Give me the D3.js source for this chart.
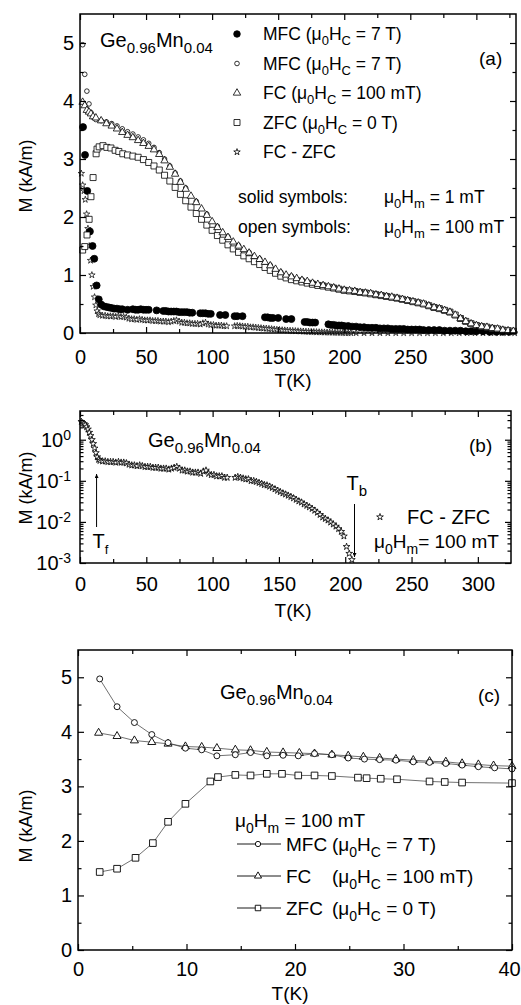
<!DOCTYPE html>
<html>
<head>
<meta charset="utf-8">
<script src="https://cdn.jsdelivr.net/npm/d3@7"></script>
<style>
  body { margin: 0; background: #fff; }
  svg text { font-family: "Liberation Sans", Arial, Helvetica, sans-serif; fill: #000; }
</style>
</head>
<body>
<svg id="chart" width="521" height="1005"></svg>
<script>
// ---------------- data (T in K, M in kA/m) ----------------
// panel (a): open symbols = 100 mT measuring field, solid = 1 mT
const mfc1mT = [[2.3,3.55],[3.8,3.07],[5.5,2.45],[7.5,1.75],[9.5,1.50],[10.8,1.28],[12.6,0.82],[14.2,0.58],[16,0.49],[18,0.46],[20,0.45],[22,0.44],[24,0.43],[26,0.42],[28,0.42],[30,0.41],[32,0.41],[36,0.40],[40,0.41],[42,0.40],[44,0.40],[46,0.41],[48,0.40],[50,0.40],[52,0.40],[58,0.39],[63,0.38],[65,0.38],[67,0.37],[69,0.37],[71,0.37],[73,0.37],[75,0.36],[77,0.36],[79,0.36],[81,0.36],[83,0.35],[85,0.35],[91,0.34],[93,0.34],[95,0.34],[97,0.33],[99,0.33],[106,0.31],[110,0.31],[117,0.29],[119,0.29],[123,0.29],[140,0.27],[142,0.27],[144,0.26],[146,0.26],[150,0.26],[156,0.24],[160,0.24],[170,0.19],[172,0.19],[174,0.18],[176,0.18],[178,0.18],[188,0.15],[190,0.14],[192,0.14],[194,0.13],[196,0.13],[198,0.13],[200,0.12],[203,0.12],[206,0.11],[209,0.11],[212,0.10],[215,0.10],[218,0.09],[221,0.09],[224,0.09],[227,0.08],[230,0.08],[233,0.08],[236,0.07],[239,0.07],[242,0.07],[245,0.07],[248,0.06],[251,0.06],[254,0.06],[257,0.06],[260,0.05],[264,0.05],[268,0.05],[272,0.05],[276,0.04],[280,0.04],[284,0.04],[288,0.04],[292,0.03],[296,0.03],[300,0.03],[305,0.03],[310,0.02],[315,0.02],[320,0.02],[325,0.02]];

const mfc100mT = [[2,4.97],[3.6,4.46],[5.2,4.17],[6.8,3.95],[8.3,3.80],[9.9,3.72],[12,3.68],[16,3.66],[20,3.64],[24,3.61],[28,3.57],[32,3.52],[36,3.47],[40,3.43],[44,3.38],[48,3.33],[52,3.27],[56,3.20],[60,3.11],[64,3.00],[68,2.88],[72,2.76],[76,2.62],[80,2.50],[88,2.27],[96,2.05],[104,1.84],[112,1.66],[120,1.51],[128,1.39],[136,1.28],[144,1.17],[152,1.05],[160,0.98],[168,0.92],[176,0.87],[184,0.83],[192,0.79],[200,0.75],[208,0.72],[216,0.70],[224,0.67],[232,0.64],[240,0.61],[248,0.57],[256,0.53],[264,0.48],[272,0.43],[280,0.37],[288,0.26],[296,0.17],[304,0.12],[312,0.09],[320,0.06],[328,0.03]];

const fc100mT = [[2,3.98],[3.6,3.92],[5.2,3.84],[6.8,3.81],[8.3,3.78],[9.9,3.73],[12,3.71],[16,3.66],[20,3.61],[24,3.57],[28,3.52],[32,3.46],[36,3.41],[40,3.37],[44,3.32],[48,3.27],[52,3.22],[56,3.16],[60,3.08],[64,2.97],[68,2.86],[72,2.74],[76,2.60],[80,2.48],[84,2.36],[88,2.25],[92,2.14],[96,2.03],[100,1.92],[104,1.82],[108,1.73],[112,1.65],[116,1.57],[120,1.50],[124,1.44],[128,1.38],[132,1.32],[136,1.27],[140,1.22],[144,1.16],[148,1.10],[152,1.04],[156,1.00],[160,0.97],[164,0.94],[168,0.91],[172,0.89],[176,0.86],[180,0.84],[184,0.82],[188,0.80],[192,0.78],[196,0.76],[200,0.74],[204,0.73],[208,0.72],[212,0.70],[216,0.69],[220,0.68],[224,0.66],[228,0.65],[232,0.63],[236,0.62],[240,0.60],[244,0.58],[248,0.56],[252,0.54],[256,0.52],[260,0.50],[264,0.47],[268,0.44],[272,0.42],[276,0.39],[280,0.36],[284,0.31],[288,0.25],[292,0.20],[296,0.16],[300,0.13],[304,0.11],[308,0.10],[312,0.08],[316,0.07],[320,0.05],[324,0.04],[328,0.03]];

const zfc100mT = [[2,1.43],[3.6,1.49],[5.3,1.69],[6.9,1.96],[8.3,2.35],[9.9,2.68],[12.2,3.09],[12.9,3.17],[14.5,3.21],[17.4,3.23],[20.3,3.20],[23.4,3.19],[26.6,3.15],[29.4,3.13],[32.4,3.09],[36,3.07],[40,3.05],[44,3.03],[48,2.99],[52,2.94],[56,2.88],[60,2.81],[64,2.72],[68,2.62],[72,2.51],[76,2.39],[80,2.28],[84,2.17],[88,2.06],[92,1.96],[96,1.86],[100,1.77],[104,1.68],[108,1.60],[112,1.52],[116,1.45],[120,1.39],[124,1.33],[128,1.28],[132,1.23],[136,1.18],[140,1.13],[144,1.08],[148,1.03],[152,0.98],[156,0.95],[160,0.92],[164,0.90],[168,0.88],[172,0.86],[176,0.84],[180,0.82],[184,0.81],[188,0.79],[192,0.775],[196,0.755],[200,0.735],[204,0.725],[208,0.715],[212,0.70],[216,0.69],[220,0.675],[224,0.66],[228,0.645],[232,0.63],[236,0.615],[240,0.60],[244,0.58],[248,0.56],[252,0.54],[256,0.52],[260,0.50],[264,0.47],[268,0.44],[272,0.42],[276,0.39],[280,0.36],[284,0.31],[288,0.25],[292,0.20],[296,0.16],[300,0.13],[304,0.11],[308,0.10],[312,0.08],[316,0.07],[320,0.05],[324,0.04],[328,0.03]];

// FC - ZFC difference, used in (a) and on log scale in (b)
const fcMinusZfc = [[1,2.75],[2,2.55],[3,2.45],[4,2.3],[5,2.05],[6,1.8],[7,1.5],[8,1.25],[9,1.0],[10,0.8],[11,0.62],[12,0.48],[13,0.38],[14,0.33],[15,0.31],[17,0.30],[19,0.30],[21,0.29],[23,0.29],[25,0.29],[27,0.28],[29,0.29],[31,0.28],[33,0.28],[35,0.27],[37,0.25],[39,0.24],[41,0.24],[43,0.23],[45,0.24],[47,0.23],[49,0.22],[51,0.22],[53,0.22],[55,0.21],[57,0.21],[59,0.21],[61,0.20],[63,0.20],[65,0.20],[67,0.19],[69,0.20],[71,0.21],[73,0.22],[75,0.20],[77,0.18],[79,0.18],[81,0.17],[83,0.17],[85,0.16],[87,0.16],[89,0.16],[91,0.15],[93,0.17],[95,0.18],[97,0.15],[99,0.14],[101,0.14],[103,0.13],[105,0.13],[107,0.13],[109,0.12],[111,0.12],[117,0.12],[119,0.125],[121,0.12],[123,0.115],[125,0.11],[127,0.11],[129,0.10],[131,0.10],[133,0.095],[135,0.09],[137,0.085],[139,0.08],[141,0.078],[143,0.073],[145,0.068],[147,0.063],[149,0.058],[151,0.054],[153,0.05],[155,0.047],[157,0.044],[159,0.041],[161,0.038],[163,0.035],[165,0.032],[167,0.03],[169,0.027],[171,0.025],[173,0.023],[175,0.021],[177,0.019],[179,0.017],[181,0.015],[183,0.013],[185,0.012],[187,0.011],[189,0.0098],[191,0.0088],[193,0.0078],[195,0.0068],[197,0.0058],[199,0.0045],[201,0.0025],[203,0.0017],[205,0.0012],[209,0.0008],[215,0.0006],[221,0.0005],[227,0.0007],[233,0.0004],[239,0.0006],[245,0.0005],[251,0.0004],[257,0.0006],[263,0.0005],[269,0.0004],[275,0.0005],[281,0.0006],[287,0.0004],[293,0.0005],[299,0.0004],[305,0.0005],[311,0.0004],[317,0.0005],[323,0.0004],[329,0.0004]];

// panel (c): low temperature zoom, 100 mT measuring field
const mfcLowT = [[2.0,4.97],[3.6,4.46],[5.2,4.17],[6.8,3.95],[8.3,3.80],[9.9,3.70],[11.4,3.67],[12.8,3.56],[14.5,3.58],[15.9,3.62],[17.4,3.56],[18.9,3.57],[20.3,3.56],[21.8,3.60],[23.4,3.58],[24.9,3.52],[26.4,3.50],[27.8,3.49],[29.3,3.48],[30.9,3.45],[32.4,3.44],[33.9,3.42],[35.4,3.39],[36.9,3.36],[38.4,3.34],[40,3.32]];
const fcLowT = [[1.9,3.98],[3.6,3.92],[5.2,3.84],[6.8,3.81],[8.3,3.78],[9.9,3.73],[11.4,3.72],[12.8,3.70],[14.5,3.67],[15.9,3.66],[17.4,3.63],[18.9,3.62],[20.4,3.61],[21.8,3.60],[23.4,3.58],[24.9,3.56],[26.3,3.54],[27.8,3.52],[29.3,3.50],[30.9,3.48],[32.4,3.46],[33.9,3.45],[35.4,3.42],[36.9,3.40],[38.3,3.38],[40,3.37]];
const zfcLowT = [[2.0,1.43],[3.6,1.49],[5.3,1.69],[6.9,1.96],[8.3,2.35],[9.9,2.68],[12.2,3.09],[12.9,3.17],[14.5,3.21],[15.9,3.20],[17.4,3.23],[18.8,3.23],[20.3,3.20],[21.8,3.20],[23.4,3.19],[25.8,3.16],[26.6,3.15],[27.9,3.14],[29.4,3.13],[32.4,3.09],[33.8,3.08],[35.4,3.07],[40,3.06]];

// ticks
const tMajorAB = [0, 50, 100, 150, 200, 250, 300];
const tMinorAB = [25, 75, 125, 175, 225, 275, 325];
const mMajor = [0, 1, 2, 3, 4, 5];
const mMinor = [0.5, 1.5, 2.5, 3.5, 4.5];
const logMajor = [1e-3, 1e-2, 1e-1, 1];
const logLabels = ["-3", "-2", "-1", "0"];
const tMajorC = [0, 10, 20, 30, 40];
const tMinorC = [5, 15, 25, 35];

const Tf = 12.5, Tb = 207;

// ---------------- setup ----------------
const svg = d3.select("#chart");

const xA = d3.scaleLinear().domain([0, 330]).range([80, 516]);
const yA = d3.scaleLinear().domain([0, 5.5]).range([333, 14]);
const xB = d3.scaleLinear().domain([0, 325]).range([80, 511]);
const yB = d3.scaleLog().domain([1e-3, 5]).range([563, 411]);
const xC = d3.scaleLinear().domain([0, 40]).range([78, 512]);
const yC = d3.scaleLinear().domain([0, 5.5]).range([950, 650]);

const defs = svg.append("defs");
defs.append("marker").attr("id", "arrow")
  .attr("viewBox", "0 0 10 10").attr("refX", 10).attr("refY", 5)
  .attr("markerWidth", 6).attr("markerHeight", 4)
  .attr("orient", "auto")
  .append("path").attr("d", "M0,0 L10,5 L0,10 z").attr("fill", "#000");

// text with sub / superscripts, parts = [[str, "sub"|"sup"|undefined], ...]
function richText(g, x, y, parts, size, anchor, small) {
  const t = g.append("text").attr("x", x).attr("y", y)
    .style("font-size", size + "px").attr("text-anchor", anchor || "start");
  let shift = 0;
  parts.forEach(p => {
    const kind = p[1];
    const target = kind === "sub" ? size * 0.3 : kind === "sup" ? -size * 0.36 : 0;
    t.append("tspan")
      .attr("dy", target - shift)
      .style("font-size", (kind ? (small || size * 0.72) : size) + "px")
      .text(p[0]);
    shift = target;
  });
  return t;
}

// frame + inward ticks on all four sides
function drawAxes(x, y, opt) {
  const [x0, x1] = x.range();
  const [y0, y1] = y.range();
  const g = svg.append("g");
  const mk = (axis, tr, vals, size, fmt, pad) => {
    const a = g.append("g").attr("transform", tr)
      .call(axis.tickValues(vals).tickSizeInner(size).tickSizeOuter(0)
        .tickPadding(pad || 0).tickFormat(fmt || (() => "")));
    a.select(".domain").remove();
    a.selectAll("line").attr("stroke-width", 1.2);
    a.selectAll("text").style("font-size", "20px");
    return a;
  };
  const bottom = mk(d3.axisBottom(x), `translate(0,${y0})`, opt.xMaj, -6, d3.format("d"), opt.xPad);
  mk(d3.axisBottom(x), `translate(0,${y0})`, opt.xMin, -4);
  mk(d3.axisTop(x), `translate(0,${y1})`, opt.xMaj, -6);
  mk(d3.axisTop(x), `translate(0,${y1})`, opt.xMin, -4);
  mk(d3.axisLeft(y), `translate(${x0},0)`, opt.yMaj, -6, opt.yFmt, 6);
  mk(d3.axisLeft(y), `translate(${x0},0)`, opt.yMin, -3.5);
  mk(d3.axisRight(y), `translate(${x1},0)`, opt.yMaj, -6);
  mk(d3.axisRight(y), `translate(${x1},0)`, opt.yMin, -3.5);
  g.append("rect").attr("x", x0).attr("y", y1)
    .attr("width", x1 - x0).attr("height", y0 - y1)
    .attr("fill", "none").attr("stroke", "#000").attr("stroke-width", 1.5);
  return bottom;
}

function drawMarks(g, data, x, y, shape, size, filled, sw) {
  g.append("g").selectAll("path").data(data).join("path")
    .attr("transform", d => `translate(${x(d[0])},${y(d[1])})`)
    .attr("d", d3.symbol(shape, size))
    .attr("fill", filled ? "#000" : "#fff")
    .attr("stroke", "#000").attr("stroke-width", sw || 0.8);
}

function yTitle(cy) {
  svg.append("text").attr("transform", `translate(32,${cy}) rotate(-90)`)
    .attr("text-anchor", "middle").style("font-size", "18px").text("M (kA/m)");
}
function xTitle(cx, by) {
  svg.append("text").attr("x", cx).attr("y", by)
    .attr("text-anchor", "middle").style("font-size", "19px").text("T(K)");
}

const geMn = [["Ge"], ["0.96", "sub"], ["Mn"], ["0.04", "sub"]];

// ---------------- panel (a) ----------------
const gA = svg.append("g");
drawMarks(gA, fcMinusZfc, xA, yA, d3.symbolStar, 13, false, 0.7);
drawMarks(gA, mfc1mT, xA, yA, d3.symbolCircle, 38, true);
drawMarks(gA, zfc100mT, xA, yA, d3.symbolSquare, 36, false);
drawMarks(gA, mfc100mT, xA, yA, d3.symbolCircle, 17, false);
drawMarks(gA, fc100mT, xA, yA, d3.symbolTriangle, 24, false);
drawAxes(xA, yA, {xMaj: tMajorAB, xMin: tMinorAB.filter(v => v < 330), yMaj: mMajor, yMin: mMinor,
  yFmt: d3.format("d"), xPad: 17});

richText(svg, 100, 47, geMn, 20, "start", 15);
svg.append("text").attr("x", 479).attr("y", 65).style("font-size", "19px").text("(a)");

const legendA = [
  {shape: d3.symbolCircle, size: 34, filled: true, parts: [["MFC (μ"], ["0", "sub"], ["H"], ["C", "sub"], [" = 7 T)"]]},
  {shape: d3.symbolCircle, size: 17, filled: false, parts: [["MFC (μ"], ["0", "sub"], ["H"], ["C", "sub"], [" = 7 T)"]]},
  {shape: d3.symbolTriangle, size: 24, filled: false, parts: [["FC (μ"], ["0", "sub"], ["H"], ["C", "sub"], [" = 100 mT)"]]},
  {shape: d3.symbolSquare, size: 36, filled: false, parts: [["ZFC (μ"], ["0", "sub"], ["H"], ["C", "sub"], [" = 0 T)"]]},
  {shape: d3.symbolStar, size: 13, filled: false, parts: [["FC - ZFC"]]}
];
legendA.forEach((d, i) => {
  const by = 40 + i * 29.5;
  svg.append("path").attr("transform", `translate(237,${by - 6})`)
    .attr("d", d3.symbol(d.shape, d.size))
    .attr("fill", d.filled ? "#000" : "#fff").attr("stroke", "#000").attr("stroke-width", 0.8);
  richText(svg, 263, by, d.parts, 17.5, "start", 13);
});
svg.append("text").attr("x", 238).attr("y", 203).style("font-size", "17.5px").text("solid symbols:");
svg.append("text").attr("x", 238).attr("y", 233).style("font-size", "17.5px").text("open symbols:");
richText(svg, 384, 203, [["μ"], ["0", "sub"], ["H"], ["m", "sub"], [" = 1 mT"]], 17.5, "start", 13);
richText(svg, 384, 233, [["μ"], ["0", "sub"], ["H"], ["m", "sub"], [" = 100 mT"]], 17.5, "start", 13);

yTitle(176);
xTitle(293, 387);

// ---------------- panel (b) ----------------
const gB = svg.append("g");
drawMarks(gB, fcMinusZfc.filter(d => d[1] >= 1e-3), xB, yB, d3.symbolStar, 14, false, 0.8);

const logMinor = [];
[1e-3, 1e-2, 1e-1, 1].forEach(dec => {
  for (let k = 2; k <= 9; k++) if (dec * k < 5) logMinor.push(dec * k);
});
drawAxes(xB, yB, {xMaj: tMajorAB, xMin: tMinorAB.filter(v => v < 325), yMaj: logMajor, yMin: logMinor,
  yFmt: () => "", xPad: 14});
logMajor.forEach((v, i) => {
  richText(svg, 71, yB(v) + 7, [["10"], [logLabels[i], "sup"]], 20, "end", 14);
});

richText(svg, 148, 447, geMn, 20, "start", 15);
svg.append("text").attr("x", 469).attr("y", 452).style("font-size", "19px").text("(b)");

// Tf and Tb arrows
svg.append("line").attr("x1", xB(Tf)).attr("x2", xB(Tf)).attr("y1", 527).attr("y2", 474)
  .attr("stroke", "#000").attr("stroke-width", 1).attr("marker-end", "url(#arrow)");
richText(svg, xB(Tf) - 4, 548, [["T"], ["f", "sub"]], 20, "start", 13);
svg.append("line").attr("x1", xB(Tb)).attr("x2", xB(Tb)).attr("y1", 504).attr("y2", 557)
  .attr("stroke", "#000").attr("stroke-width", 1).attr("marker-end", "url(#arrow)");
richText(svg, xB(Tb) - 8, 490, [["T"], ["b", "sub"]], 20, "start", 15);

svg.append("path").attr("transform", "translate(380,517)")
  .attr("d", d3.symbol(d3.symbolStar, 14)).attr("fill", "#fff").attr("stroke", "#000").attr("stroke-width", 0.8);
svg.append("text").attr("x", 407).attr("y", 524).style("font-size", "20px").text("FC - ZFC");
richText(svg, 374, 548, [["μ"], ["0", "sub"], ["H"], ["m", "sub"], ["= 100 mT"]], 19, "start", 14);

yTitle(488);
xTitle(293, 617);

// ---------------- panel (c) ----------------
const gC = svg.append("g");
const line = d3.line().x(d => xC(d[0])).y(d => yC(d[1]));
[mfcLowT, fcLowT, zfcLowT].forEach(s => {
  gC.append("path").attr("d", line(s)).attr("fill", "none")
    .attr("stroke", "#333").attr("stroke-width", 0.7);
});
drawMarks(gC, zfcLowT, xC, yC, d3.symbolSquare, 44, false, 0.9);
drawMarks(gC, fcLowT, xC, yC, d3.symbolTriangle, 28, false, 0.9);
drawMarks(gC, mfcLowT, xC, yC, d3.symbolCircle, 28, false, 0.9);
const bottomC = drawAxes(xC, yC, {xMaj: tMajorC, xMin: tMinorC, yMaj: mMajor, yMin: mMinor,
  yFmt: d3.format("d"), xPad: 12});
// last label sits on the page edge; nudge it in a little
bottomC.selectAll("text").filter(d => d === 40).attr("dx", -3);

richText(svg, 220, 699, geMn, 20, "start", 15);
svg.append("text").attr("x", 478).attr("y", 702).style("font-size", "19px").text("(c)");
richText(svg, 235, 827, [["μ"], ["0", "sub"], ["H"], ["m", "sub"], [" = 100 mT"]], 19, "start", 14);

const legendC = [
  {shape: d3.symbolCircle, size: 22, name: "MFC", parts: [["(μ"], ["0", "sub"], ["H"], ["C", "sub"], [" = 7 T)"]]},
  {shape: d3.symbolTriangle, size: 22, name: "FC", parts: [["(μ"], ["0", "sub"], ["H"], ["C", "sub"], [" = 100 mT)"]]},
  {shape: d3.symbolSquare, size: 30, name: "ZFC", parts: [["(μ"], ["0", "sub"], ["H"], ["C", "sub"], [" = 0 T)"]]}
];
legendC.forEach((d, i) => {
  const by = 851 + i * 32;
  const cy = by - 7;
  svg.append("line").attr("x1", 237).attr("x2", 281).attr("y1", cy).attr("y2", cy)
    .attr("stroke", "#000").attr("stroke-width", 0.9);
  svg.append("path").attr("transform", `translate(258,${cy})`)
    .attr("d", d3.symbol(d.shape, d.size))
    .attr("fill", "#fff").attr("stroke", "#000").attr("stroke-width", 0.9);
  svg.append("text").attr("x", 286).attr("y", by).style("font-size", "19px").text(d.name);
  richText(svg, 332, by, d.parts, 19, "start", 14);
});

yTitle(826);
xTitle(290, 1000);
</script>
</body>
</html>
